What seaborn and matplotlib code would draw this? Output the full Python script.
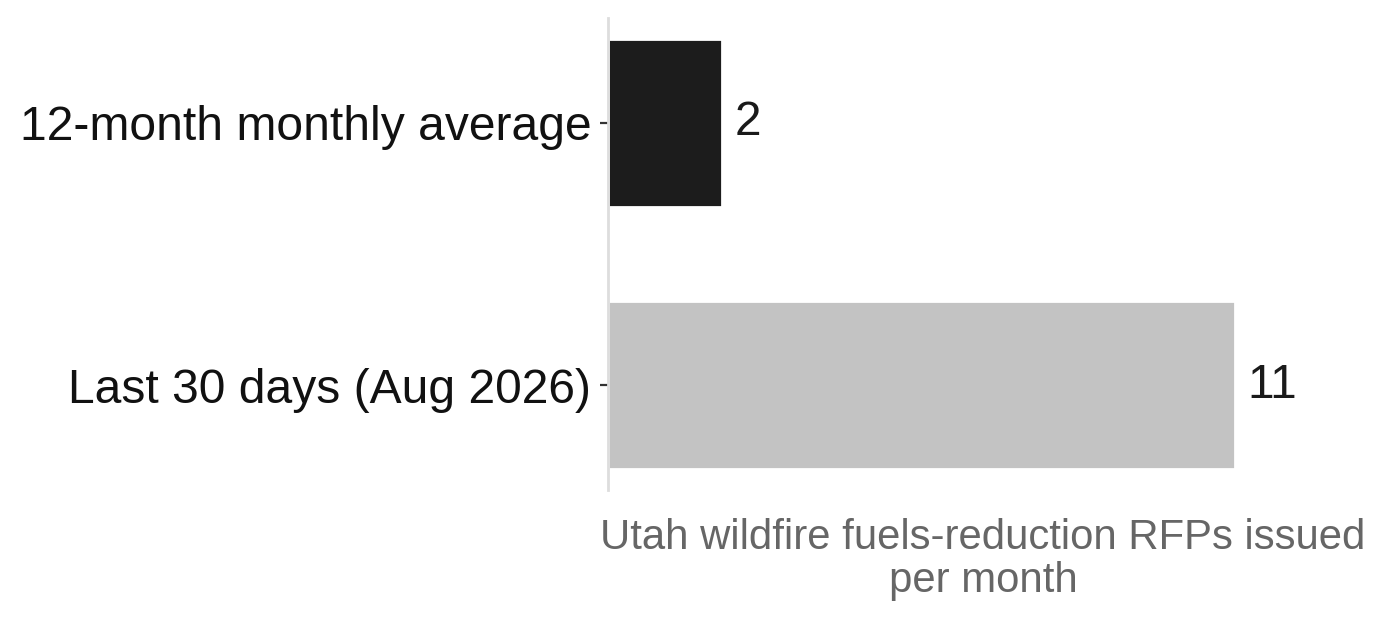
import matplotlib
matplotlib.use("Agg")
import matplotlib.pyplot as plt
import seaborn as sns
import pandas as pd

# data
categories = ["12-month monthly average", "Last 30 days (Aug 2026)"]
values = [2, 11]
bar_colors = ["#1c1c1c", "#c3c3c3"]

df = pd.DataFrame({"period": categories, "rfps": values})

sns.set_style("white")
plt.rcParams["font.family"] = ["Liberation Sans", "DejaVu Sans"]

fig, ax = plt.subplots(figsize=(6.9, 3.095), dpi=200)
fig.subplots_adjust(left=0.4406, right=0.984, top=0.971, bottom=0.208)

sns.barplot(data=df, x="rfps", y="period", hue="period", palette=bar_colors,
            legend=False, width=0.64, saturation=1, ax=ax)

for i, v in enumerate(values):
    ax.text(v + 0.22, i, str(v), va="center", ha="left", fontsize=17.2, color="#1a1a1a")

ax.set_xlim(0, 13.15)
ax.set_ylim(1.4, -0.4)
ax.set_xticks([])
ax.set_ylabel("")
ax.set_xlabel("Utah wildfire fuels-reduction RFPs issued\nper month", fontsize=15.1,
              color="#666666", linespacing=1.1, labelpad=10)
ax.tick_params(axis="y", labelsize=17.3, length=3, width=0.8, color="#333333",
               labelcolor="#111111", pad=3, left=True)

for side in ["top", "right", "bottom"]:
    ax.spines[side].set_visible(False)
ax.spines["left"].set_color("#dddddd")
ax.spines["left"].set_linewidth(1)

fig.savefig("out.png", dpi=200)
